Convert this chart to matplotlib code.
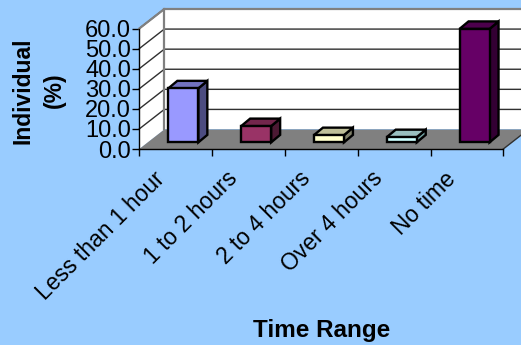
import matplotlib
matplotlib.use("Agg")
import matplotlib.pyplot as plt
from matplotlib.patches import Polygon
from matplotlib.ticker import MultipleLocator, FormatStrFormatter

categories = ["Less than 1 hour", "1 to 2 hours", "2 to 4 hours", "Over 4 hours", "No time"]
values = [26.9, 8.1, 3.6, 2.6, 56.5]
front_colors = ["#9999FF", "#993366", "#FFFFCC", "#CCFFFF", "#660066"]
top_colors = ["#7272BF", "#73264C", "#BFBF99", "#99BFBF", "#4C004C"]
side_colors = ["#4C4C80", "#4C1933", "#80806A", "#6F9C9C", "#330033"]
xlabel = "Time Range"
ylabel = "Individual\n(%)"

W, H = 521, 345
BG = "#99CCFF"
plt.rcParams["font.family"] = ["Liberation Sans", "DejaVu Sans"]

fig = plt.figure(figsize=(W / 100, H / 100), dpi=100, facecolor=BG)
ax = fig.add_axes([139.3 / W, 1 - 149 / H, 364 / W, 120.5 / H])
ax.set_xlim(0, 5)
ax.set_ylim(0, 60)
ax.patch.set_visible(False)

# Oblique projection of the 3D box, in data units
DX, DY = 25 / 72.8, 19.5 / 2.008
bar_dx, bar_dy = 9 / 72.8, 7.5 / 2.008
bar_w, bar_base = 30 / 72.8, 3.3
bar_center = 0.605

def poly(pts, fc, ec="none", lw=0, z=1):
    ax.add_patch(Polygon(pts, closed=True, fc=fc, ec=ec, lw=lw, zorder=z,
                         clip_on=False, joinstyle="miter"))

# Wall, side wall and floor
poly([(0, 0), (DX, DY), (DX, 60 + DY), (0, 60)], "white")
poly([(DX, DY), (5 + DX, DY), (5 + DX, 60 + DY), (DX, 60 + DY)], "white")
poly([(0, 0), (5, 0), (5 + DX, DY), (DX, DY)], "#808080")

# Gridlines running across the back and side walls
for v in range(10, 70, 10):
    ax.plot([0, DX, 5 + DX], [v, v + DY, v + DY], color="#303030", lw=1,
            zorder=2, clip_on=False, solid_joinstyle="miter")
ax.plot([0, DX, 5 + DX], [60, 60 + DY, 60 + DY], color="#808080", lw=1.6,
        zorder=2, clip_on=False)
ax.plot([DX, DX], [DY, 60 + DY], color="#808080", lw=1.6, zorder=2, clip_on=False)
ax.plot([5, 5 + DX], [0, DY], color="#303030", lw=1, zorder=2, clip_on=False)

# Bars
for i, v in enumerate(values):
    x0 = i + bar_center - bar_w / 2
    x1 = x0 + bar_w
    y0, y1 = bar_base, bar_base + v
    kw = dict(ec="black", lw=1.7, z=3)
    poly([(x1, y0), (x1 + bar_dx, y0 + bar_dy), (x1 + bar_dx, y1 + bar_dy), (x1, y1)], side_colors[i], **kw)
    poly([(x0, y1), (x1, y1), (x1 + bar_dx, y1 + bar_dy), (x0 + bar_dx, y1 + bar_dy)], top_colors[i], **kw)
    poly([(x0, y0), (x1, y0), (x1, y1), (x0, y1)], front_colors[i], **kw)

# Axes
for s in ("top", "right"):
    ax.spines[s].set_visible(False)
for s in ("left", "bottom"):
    ax.spines[s].set_linewidth(1)
    ax.spines[s].set_zorder(4)
ax.yaxis.set_major_locator(MultipleLocator(10))
ax.yaxis.set_major_formatter(FormatStrFormatter("%.1f"))
ax.set_xticks(range(6))
ax.set_xticklabels([])
ax.set_xticks([i + 0.185 for i in range(5)], minor=True)
ax.set_xticklabels(categories, minor=True, rotation=45, ha="right", va="top",
                   rotation_mode="anchor", fontsize=16.5)
ax.tick_params(axis="x", which="minor", length=0, pad=13)
ax.tick_params(axis="x", which="major", length=5, width=1, direction="out")
ax.tick_params(axis="y", length=5, width=1, pad=1, labelsize=17)

fig.text(321.5 / W, 1 - 331 / H, xlabel, fontsize=17.5, fontweight="bold", ha="center", va="center")
fig.text(39 / W, 1 - 90.5 / H, ylabel, fontsize=16.5, fontweight="bold", rotation=90,
         ha="center", va="center", multialignment="center", linespacing=1.45)

fig.savefig("out.png", dpi=100, facecolor=BG)
